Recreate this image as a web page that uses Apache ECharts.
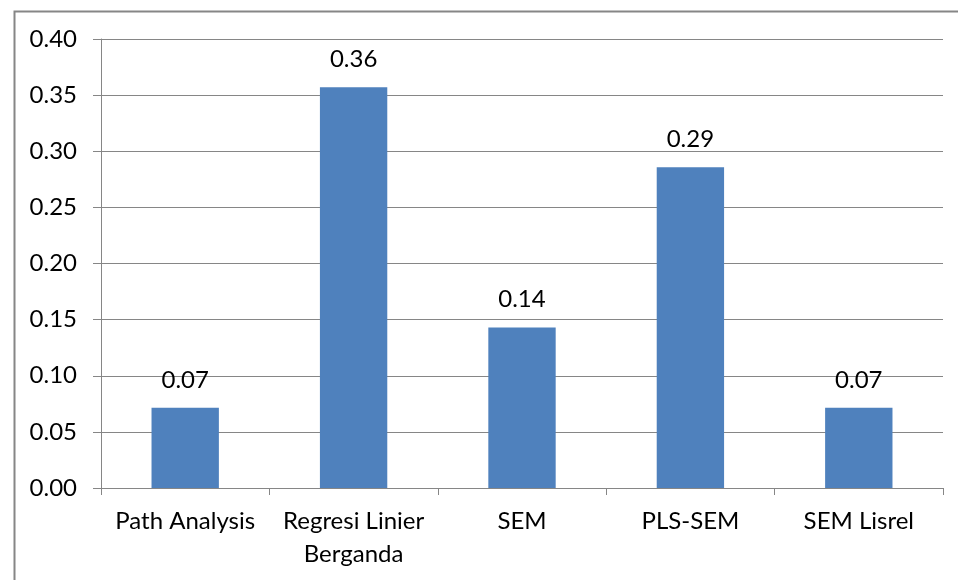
<!DOCTYPE html>
<html>
<head>
<meta charset="utf-8">
<script src="https://cdn.jsdelivr.net/npm/echarts@6/dist/echarts.min.js"></script>
<style>
  html, body { margin: 0; padding: 0; background: #ffffff; }
  #chart { width: 958px; height: 580px; }
</style>
</head>
<body>
<div id="chart"></div>
<script>
// Methods and their share of studies
const categories = ['Path Analysis', 'Regresi Linier\nBerganda', 'SEM', 'PLS-SEM', 'SEM Lisrel'];
const shares = [0.0714, 0.3571, 0.1429, 0.2857, 0.0714];
const yTicks = { min: 0, max: 0.4, interval: 0.05 };

const FONT = 'Lato';
const chart = echarts.init(document.getElementById('chart'), null, { renderer: 'canvas' });

chart.setOption({
  animation: false,
  backgroundColor: '#ffffff',
  graphic: [{
    type: 'rect',
    left: 12, top: 9,
    shape: { x: 0, y: 0, width: 960, height: 600 },
    style: { fill: 'none', stroke: '#868686', lineWidth: 2 },
    silent: true
  }],
  grid: { left: 101, right: 15, top: 39, bottom: 92, containLabel: false },
  xAxis: {
    type: 'category',
    data: categories,
    axisLine: { lineStyle: { color: '#868686', width: 1 } },
    axisTick: { show: true, alignWithLabel: false, length: 7, lineStyle: { color: '#868686' } },
    axisLabel: {
      color: '#000000', fontFamily: FONT, fontSize: 24, margin: 17,
      lineHeight: 33, interval: 0
    },
    splitLine: { show: false }
  },
  yAxis: {
    type: 'value',
    min: yTicks.min, max: yTicks.max, interval: yTicks.interval,
    axisLine: { show: true, lineStyle: { color: '#868686', width: 1 } },
    axisTick: { show: true, length: 8, lineStyle: { color: '#868686' } },
    axisLabel: {
      color: '#000000', fontFamily: FONT, fontSize: 24, margin: 24,
      formatter: v => v.toFixed(2)
    },
    splitLine: { show: true, lineStyle: { color: '#868686', width: 1 } }
  },
  series: [{
    type: 'bar',
    data: shares,
    barCategoryGap: '60%',
    itemStyle: { color: '#4F81BD' },
    label: {
      show: true, position: 'top', distance: 16,
      color: '#000000', fontFamily: FONT, fontSize: 24,
      formatter: p => p.value.toFixed(2)
    }
  }]
});
</script>
</body>
</html>
